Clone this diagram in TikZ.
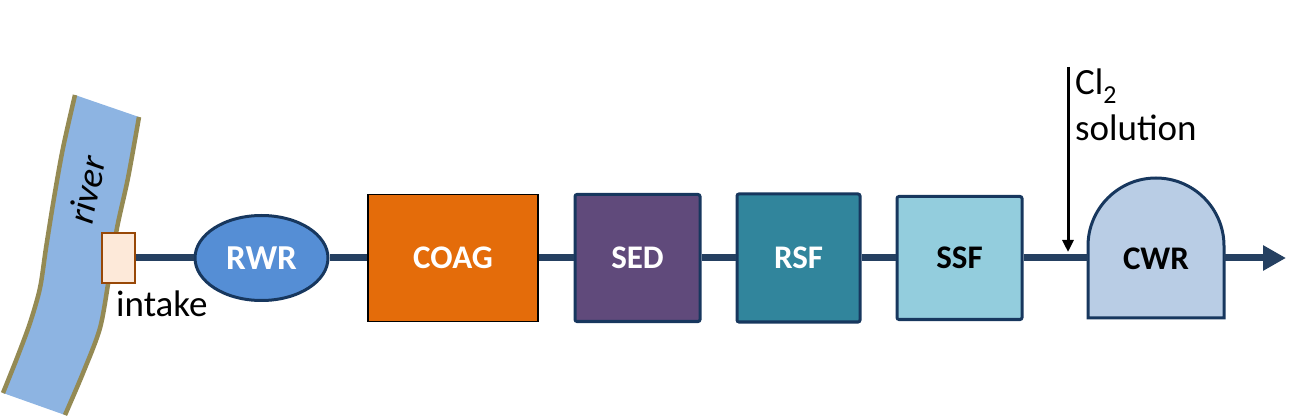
\documentclass[tikz,border=0pt]{standalone}
\usepackage{fontspec}
\setmainfont{Carlito}
\usepackage{xcolor}
\usetikzlibrary{arrows.meta,shapes.geometric,backgrounds}
\definecolor{pipeblue}{HTML}{254061}
\definecolor{edgeblue}{HTML}{17375E}
\definecolor{riverblue}{HTML}{8DB4E2}
\definecolor{bankolive}{HTML}{948A54}
\definecolor{intakefill}{HTML}{FDE9D9}
\definecolor{intakeedge}{HTML}{984807}
\definecolor{rwrblue}{HTML}{558ED5}
\definecolor{coagorange}{HTML}{E46C0A}
\definecolor{sedpurple}{HTML}{604A7B}
\definecolor{rsfteal}{HTML}{31859C}
\definecolor{ssfcyan}{HTML}{93CDDD}
\definecolor{cwrblue}{HTML}{B9CDE5}
\tikzset{
  txt/.style={font=\fontsize{37}{46}\selectfont, inner sep=0pt},
  unit/.style={draw=edgeblue, line width=3pt, rounded corners=2pt, inner sep=0pt,
    font=\fontsize{33}{40}\selectfont\bfseries, text=white},
  tank/.style={unit, ellipse, fill=rwrblue, font=\fontsize{35}{40}\selectfont\bfseries},
  coag/.style={unit, draw=black, line width=1.5pt, rounded corners=0pt, fill=coagorange},
  sed/.style={unit, fill=sedpurple},
  rsf/.style={unit, fill=rsfteal},
  ssf/.style={unit, fill=ssfcyan, text=black},
  dome/.style={draw=edgeblue, line width=3pt, fill=cwrblue},
  intakebox/.style={draw=intakeedge, line width=1.5pt, fill=intakefill, inner sep=0pt},
  bank/.style={bankolive, line width=4.5pt},
  pipe/.style={pipeblue, line width=7pt},
  feed/.style={-{Triangle[length=12pt,width=11pt]}, line width=3pt}
}
\begin{document}
\begin{tikzpicture}[x=1pt, y=1pt]
    \useasboundingbox (0,0) rectangle (1312,418);
    % River
    \fill[riverblue] plot[smooth] coordinates {(75,323) (63,270) (54,220) (46,170) (40,130) (30,95) (17,60) (3,25)}
      -- plot[smooth] coordinates {(65,3) (83,45) (100,90) (109,140) (117,190) (128,240) (139,301)} -- cycle;
    \draw[bank] plot[smooth] coordinates {(75,323) (63,270) (54,220) (46,170) (40,130) (30,95) (17,60) (3,25)};
    \draw[bank] plot[smooth] coordinates {(65,3) (83,45) (100,90) (109,140) (117,190) (128,240) (139,301)};
    \node[txt, rotate=78, font=\fontsize{37}{46}\selectfont\itshape] (rivertxt) at (87,228) {river};
    % Treatment units
    \node[intakebox, minimum width=33pt, minimum height=50pt] (intake) at (118.5,160) {};
    \node[txt, anchor=base west] (intaketxt) at (116,101) {intake};
    \node[tank, minimum width=133pt, minimum height=85pt] (rwr) at (261.5,160) {RWR};
    \node[coag, minimum width=170pt, minimum height=127pt] (coag) at (453,160) {COAG};
    \node[sed, minimum width=125pt, minimum height=127pt] (sed) at (637.5,160) {SED};
    \node[rsf, minimum width=123pt, minimum height=128pt] (rsf) at (798.5,160) {RSF};
    \node[ssf, minimum width=125pt, minimum height=123pt] (ssf) at (959.5,160) {SSF};
    \node[unit, draw=none, outer sep=0pt, text=black, minimum width=136pt, minimum height=118pt] (cwr) at (1156,159) {CWR};
    \begin{scope}[on background layer]
      \draw[dome] (cwr.south west) -- ++(0,72) arc[start angle=180, end angle=0, radius=68] -- (cwr.south east) -- cycle;
    \end{scope}
    % Pipe
    \foreach \a/\b in {intake/rwr, rwr/coag, coag/sed, sed/rsf, rsf/ssf, ssf/cwr}
      \draw[pipe] (\a.east |- intake) -- (\b.west |- intake);
    \coordinate (out) at (1286,160);
    \draw[pipe, -{Triangle[length=23pt,width=24pt]}] (cwr.east |- intake) -- (out);
    % Chlorine dosing
    \coordinate (cltop) at (1068,351);
    \coordinate (dose) at (1068,166);
    \draw[feed] (cltop) -- (dose);
    \node[txt, anchor=north west, align=left] (cltxt) at (1075,349) {Cl\textsubscript{2}\\solution};
\end{tikzpicture}
\end{document}
